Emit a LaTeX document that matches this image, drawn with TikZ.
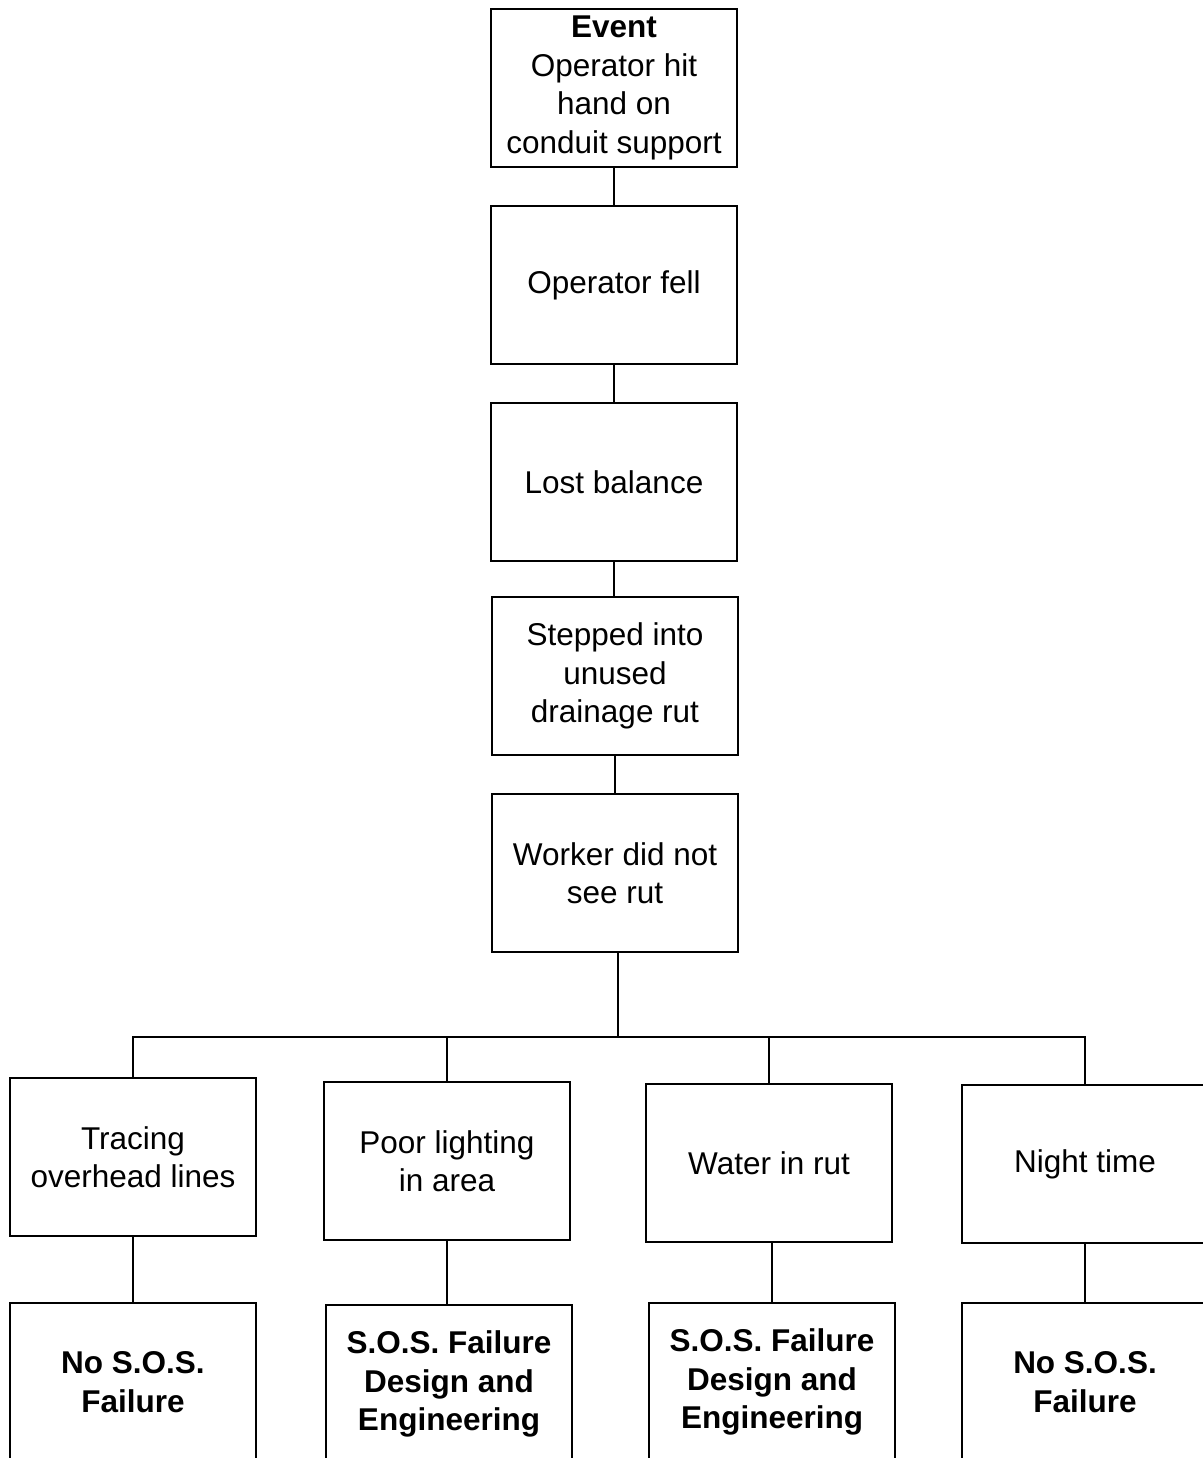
\documentclass[tikz,border=0pt]{standalone}
\usepackage{fontspec}
\setmainfont{Liberation Sans}
\usetikzlibrary{calc,positioning}

\begin{document}
\begin{tikzpicture}[x=1pt,y=-1pt,line width=2.5pt,
	box/.style={rectangle,draw,minimum width=246pt,minimum height=158pt,
			inner sep=2pt,align=center,font=\fontsize{31.5}{38.5}\selectfont}]
\useasboundingbox (0,0) rectangle (1202,1458);
\node (e1) at (614,88) [box] {\textbf{Event}\\Operator hit\\hand on\\conduit support};
\node (e2) at (614,285) [box] {Operator fell};
\node (e3) at (614,482) [box] {Lost balance};
\node (e4) at (615,676) [box] {Stepped into\\unused\\drainage rut};
\node (e5) at (615,873) [box] {Worker did not\\see rut};

\node (r1) at (133,1157) [box] {Tracing\\overhead lines};
\node (r2) at (447,1161) [box] {Poor lighting\\in area};
\node (r3) at (769,1163) [box] {Water in rut};
\node (r4) at (1085,1164) [box] {Night time};

\node (f1) at (133,1382) [box] {\textbf{No S.O.S.}\\\textbf{Failure}};
\node (f2) at (449,1384) [box] {\textbf{S.O.S. Failure}\\\textbf{Design and}\\\textbf{Engineering}};
\node (f3) at (772,1382) [box] {\textbf{S.O.S. Failure}\\\textbf{Design and}\\\textbf{Engineering}};
\node (f4) at (1085,1382) [box] {\textbf{No S.O.S.}\\\textbf{Failure}};

\coordinate (bus) at (618,1037);

\draw (e1) -- (e2);
\draw (e2) -- (e3);
\draw (e3) -- (e3 |- e4.north);
\draw (e4) -- (e5);
\draw (e5.south -| bus) -- (bus);
\draw (r1.north) |- (bus) -| (r4.north);
\draw (r2.north) -- (r2.north |- bus);
\draw (r3.north) -- (r3.north |- bus);

\draw (r1) -- (f1);
\draw (r2.south) -- (r2.south |- f2.north);
\draw (f3.north) -- (f3.north |- r3.south);
\draw (r4) -- (f4);
\end{tikzpicture}
\end{document}
